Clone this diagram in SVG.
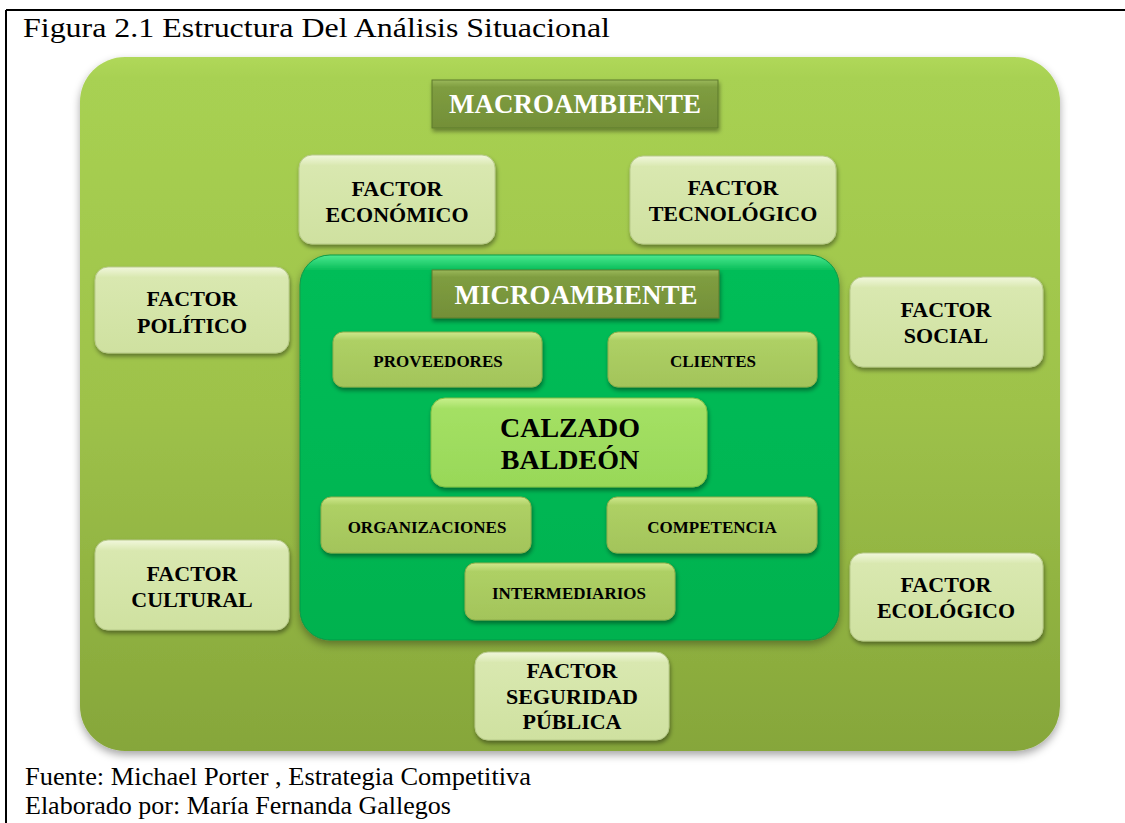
<svg xmlns="http://www.w3.org/2000/svg" width="1125" height="823" viewBox="0 0 1125 823">
<style>
.t{font-family:'Liberation Serif','Times New Roman',Times,serif;fill:#000}
.b{font-family:'Liberation Serif','Times New Roman',Times,serif;font-weight:bold;text-anchor:middle;fill:#000}
.f{font-size:22px}
.i{font-size:17px}
.w{fill:#fff;font-size:27px}
.factor{fill:url(#gFactor);stroke:#b7c98a;stroke-width:1;filter:url(#sh)}
.inner{fill:url(#gInner);stroke:#8fae4a;stroke-width:1;filter:url(#sh)}
.label{fill:url(#gLabel);stroke:#5f7a2c;stroke-width:1;filter:url(#sh)}
</style>
<defs>
<linearGradient id="gOuter" x1="0" y1="0" x2="0" y2="1">
<stop offset="0" stop-color="#b0d85a"/>
<stop offset="0.03" stop-color="#a8d152"/>
<stop offset="0.5" stop-color="#9ec24a"/>
<stop offset="1" stop-color="#86a63a"/>
</linearGradient>
<linearGradient id="gMicro" x1="0" y1="0" x2="0" y2="1">
<stop offset="0" stop-color="#4de88f"/>
<stop offset="0.04" stop-color="#05bd58"/>
<stop offset="1" stop-color="#00b24f"/>
</linearGradient>
<linearGradient id="gFactor" x1="0" y1="0" x2="0" y2="1">
<stop offset="0" stop-color="#f1f7dc"/>
<stop offset="0.12" stop-color="#d9e8b0"/>
<stop offset="1" stop-color="#cfe1a0"/>
</linearGradient>
<linearGradient id="gInner" x1="0" y1="0" x2="0" y2="1">
<stop offset="0" stop-color="#cfe88c"/>
<stop offset="0.15" stop-color="#aed065"/>
<stop offset="1" stop-color="#a3c45a"/>
</linearGradient>
<linearGradient id="gCenter" x1="0" y1="0" x2="0" y2="1">
<stop offset="0" stop-color="#c8f08c"/>
<stop offset="0.12" stop-color="#a4e064"/>
<stop offset="1" stop-color="#98d858"/>
</linearGradient>
<linearGradient id="gLabel" x1="0" y1="0" x2="0" y2="1">
<stop offset="0" stop-color="#9ab85a"/>
<stop offset="0.15" stop-color="#7f9d40"/>
<stop offset="1" stop-color="#738f38"/>
</linearGradient>
<filter id="sh" x="-10%" y="-10%" width="120%" height="130%">
<feDropShadow dx="1" dy="3" stdDeviation="2" flood-color="#000" flood-opacity="0.4"/>
</filter>
<filter id="shBig" x="-5%" y="-5%" width="110%" height="112%">
<feDropShadow dx="0" dy="4" stdDeviation="4" flood-color="#000" flood-opacity="0.35"/>
</filter>
</defs>

<g id="frame">
<line x1="6" y1="10" x2="1125" y2="10" stroke="#000" stroke-width="2"/>
<line x1="6" y1="10" x2="6" y2="823" stroke="#000" stroke-width="2"/>
</g>

<text id="title" class="t" x="23" y="37" font-size="27" textLength="587" lengthAdjust="spacingAndGlyphs">Figura 2.1 Estructura Del Análisis Situacional</text>

<g id="macroambiente">
<rect x="80" y="57" width="980" height="694" rx="45" fill="url(#gOuter)" filter="url(#shBig)"/>
</g>

<g id="macro-label">
<rect class="label" x="432" y="80" width="286" height="48"/>
<text class="b w" x="575" y="113">MACROAMBIENTE</text>
</g>

<g id="factor-economico">
<rect class="factor" x="299" y="155" width="196" height="89" rx="13"/>
<text class="b f" x="397" y="196">FACTOR</text>
<text class="b f" x="397" y="222">ECONÓMICO</text>
</g>

<g id="factor-tecnologico">
<rect class="factor" x="630" y="156" width="206" height="88" rx="13"/>
<text class="b f" x="733" y="195">FACTOR</text>
<text class="b f" x="733" y="221">TECNOLÓGICO</text>
</g>

<g id="factor-politico">
<rect class="factor" x="95" y="267" width="194" height="86" rx="13"/>
<text class="b f" x="192" y="306">FACTOR</text>
<text class="b f" x="192" y="333">POLÍTICO</text>
</g>

<g id="factor-social">
<rect class="factor" x="850" y="277" width="193" height="90" rx="13"/>
<text class="b f" x="946" y="317">FACTOR</text>
<text class="b f" x="946" y="343">SOCIAL</text>
</g>

<g id="factor-cultural">
<rect class="factor" x="95" y="540" width="194" height="90" rx="13"/>
<text class="b f" x="192" y="581">FACTOR</text>
<text class="b f" x="192" y="607">CULTURAL</text>
</g>

<g id="factor-ecologico">
<rect class="factor" x="850" y="553" width="193" height="88" rx="13"/>
<text class="b f" x="946" y="592">FACTOR</text>
<text class="b f" x="946" y="618">ECOLÓGICO</text>
</g>

<g id="factor-seguridad">
<rect class="factor" x="475" y="652" width="194" height="88" rx="13"/>
<text class="b f" x="572" y="678">FACTOR</text>
<text class="b f" x="572" y="704">SEGURIDAD</text>
<text class="b f" x="572" y="729">PÚBLICA</text>
</g>

<g id="microambiente">
<rect x="300" y="255" width="539" height="385" rx="30" fill="url(#gMicro)" stroke="#0a9a48" stroke-width="1" filter="url(#shBig)"/>
</g>

<g id="micro-label">
<rect class="label" x="432" y="270" width="287" height="48"/>
<text class="b w" x="576" y="304">MICROAMBIENTE</text>
</g>

<g id="proveedores">
<rect class="inner" x="333" y="332" width="209" height="55" rx="10"/>
<text class="b i" x="438" y="367">PROVEEDORES</text>
</g>

<g id="clientes">
<rect class="inner" x="608" y="332" width="209" height="55" rx="10"/>
<text class="b i" x="713" y="367">CLIENTES</text>
</g>

<g id="calzado">
<rect x="431" y="398" width="276" height="89" rx="14" fill="url(#gCenter)" stroke="#7fbf44" stroke-width="1" filter="url(#sh)"/>
<text class="b" x="570" y="437" font-size="28">CALZADO</text>
<text class="b" x="570" y="469" font-size="28">BALDEÓN</text>
</g>

<g id="organizaciones">
<rect class="inner" x="321" y="497" width="210" height="56" rx="10"/>
<text class="b i" x="427" y="533">ORGANIZACIONES</text>
</g>

<g id="competencia">
<rect class="inner" x="607" y="497" width="210" height="56" rx="10"/>
<text class="b i" x="712" y="533">COMPETENCIA</text>
</g>

<g id="intermediarios">
<rect class="inner" x="465" y="563" width="210" height="57" rx="10"/>
<text class="b i" x="569" y="599">INTERMEDIARIOS</text>
</g>

<g id="connectors"></g>

<text id="fuente" class="t" x="25" y="785" font-size="26" textLength="506" lengthAdjust="spacingAndGlyphs">Fuente: Michael Porter , Estrategia Competitiva</text>
<text id="elaborado" class="t" x="25" y="814" font-size="26">Elaborado por: María Fernanda Gallegos</text>
</svg>
